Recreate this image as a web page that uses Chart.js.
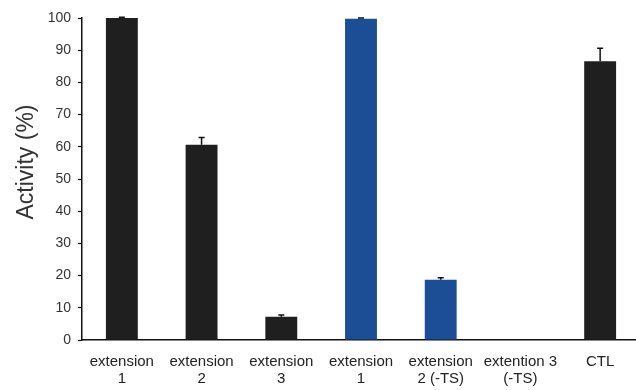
<!DOCTYPE html>
<html>
<head>
<meta charset="utf-8">
<script src="https://cdn.jsdelivr.net/npm/chart.js@4"></script>
<style>
  html, body { margin: 0; padding: 0; background: #fff; overflow: hidden; }
  #wrap { width: 640px; height: 390px; }
</style>
</head>
<body>
<div id="wrap"><canvas id="c" width="640" height="390"></canvas></div>
<script>
// Category labels (two lines each)
const categories = [
  ['extension', '1'],
  ['extension', '2'],
  ['extension', '3'],
  ['extension', '1'],
  ['extension', '2 (-TS)'],
  ['extention 3', '(-TS)'],
  ['CTL']
];
// Mean activity (%) and standard deviation
const activity = [100, 60.6, 7.2, 99.8, 18.7, 0, 86.6];
const errors   = [0.2, 2.3, 0.6, 0.2, 0.6, 0, 4.0];
const barColors = ['#1f1f1f', '#1f1f1f', '#1f1f1f', '#1c4e96', '#1c4e96', '#1f1f1f', '#1f1f1f'];
const yTicks = [0, 10, 20, 30, 40, 50, 60, 70, 80, 90, 100];
const yTitle = 'Activity (%)';

const FONT = 'Liberation Sans, Arial, sans-serif';

// Upper half of each error bar with a small cap
const errorBars = {
  id: 'errorBars',
  afterDatasetsDraw(chart) {
    const ctx = chart.ctx;
    const meta = chart.getDatasetMeta(0);
    const y = chart.scales.y;
    ctx.save();
    ctx.strokeStyle = '#111';
    ctx.lineWidth = 1.5;
    meta.data.forEach((bar, i) => {
      if (!activity[i] || !errors[i]) return;
      const x = bar.x;
      const yTop = y.getPixelForValue(activity[i] + errors[i]);
      const yMid = y.getPixelForValue(activity[i]);
      ctx.beginPath();
      ctx.moveTo(x, yMid);
      ctx.lineTo(x, yTop);
      ctx.moveTo(x - 3, yTop);
      ctx.lineTo(x + 3, yTop);
      ctx.stroke();
    });
    ctx.restore();
  }
};

// Rotated y-axis title, placed a little above the axis midpoint
const axisTitle = {
  id: 'axisTitle',
  afterDraw(chart) {
    const ctx = chart.ctx;
    const area = chart.chartArea;
    const cy = (area.top + area.bottom) / 2 - 17;
    ctx.save();
    ctx.translate(27, cy);
    ctx.rotate(-Math.PI / 2);
    ctx.fillStyle = '#333';
    ctx.font = '23px ' + FONT;
    ctx.textAlign = 'center';
    ctx.textBaseline = 'middle';
    ctx.fillText(yTitle, 0, 0);
    ctx.restore();
  }
};

new Chart(document.getElementById('c'), {
  type: 'bar',
  data: {
    labels: categories,
    datasets: [{
      data: activity,
      backgroundColor: barColors,
      borderWidth: 0,
      categoryPercentage: 1.0,
      barPercentage: 0.4
    }]
  },
  options: {
    responsive: false,
    animation: false,
    layout: { padding: { top: 18, right: 0, bottom: 0, left: 0 } },
    plugins: { legend: { display: false }, tooltip: { enabled: false } },
    scales: {
      x: {
        grid: { display: false },
        border: { display: true, color: '#111', width: 1.5 },
        ticks: {
          color: '#222',
          font: { family: FONT, size: 15, lineHeight: 1.15 },
          maxRotation: 0,
          minRotation: 0,
          autoSkip: false,
          padding: 5
        },
        afterFit(scale) { scale.height = 50; }
      },
      y: {
        min: 0,
        max: 100,
        afterBuildTicks(scale) { scale.ticks = yTicks.map(v => ({ value: v })); },
        grid: { drawOnChartArea: false, drawTicks: true, tickLength: 4, tickColor: '#111', tickWidth: 1.2 },
        border: { display: true, color: '#111', width: 1.5 },
        ticks: {
          color: '#333',
          font: { family: FONT, size: 14 },
          padding: 7
        },
        afterFit(scale) { scale.width = 82; }
      }
    }
  },
  plugins: [errorBars, axisTitle]
});
</script>
</body>
</html>
